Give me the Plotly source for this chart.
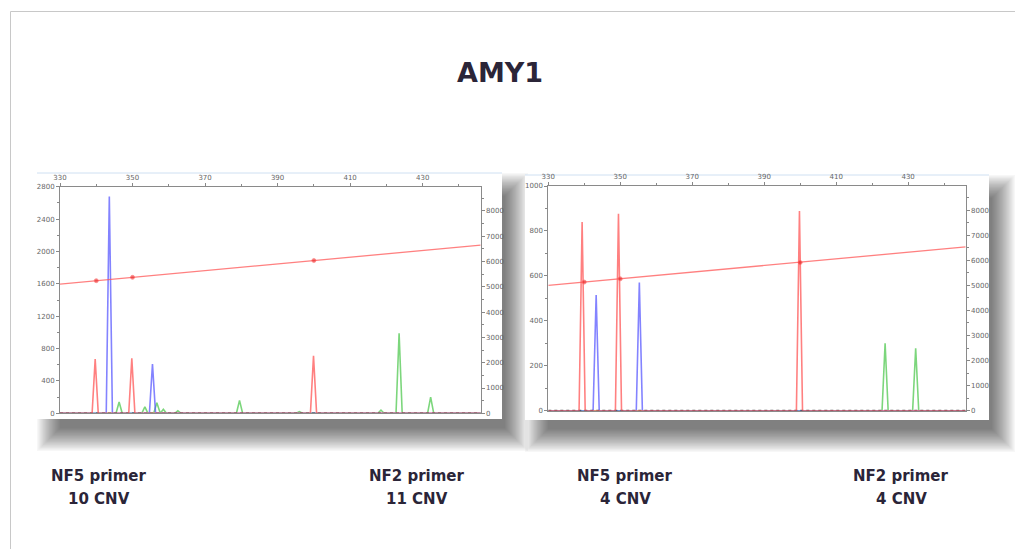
import plotly.graph_objects as go

W, H = 1015, 549

# Fragment size axis (bp) shared by both electropherograms
size_ticks = [330, 350, 370, 390, 410, 430]
size_range = [330, 446]

# Sample 1: peak positions (bp) and heights (RFU) per dye channel
a_red_pos = [339.7, 349.8, 399.9]
a_red_h = [670, 680, 710]
a_blue_pos = [343.6, 355.5]
a_blue_h = [2680, 610]
a_green_pos = [346.3, 353.4, 356.7, 358.5, 362.5, 379.5, 396.0, 418.5, 423.5, 432.2]
a_green_h = [140, 80, 130, 50, 30, 160, 20, 40, 990, 200]
# size-standard calibration curve (right axis)
a_ladder_x = [330, 340, 350, 400, 446]
a_ladder_y = [5110, 5243, 5376, 6040, 6650]

# Sample 2
b_red_pos = [339.4, 349.5, 399.8]
b_red_h = [840, 877, 889]
b_blue_pos = [343.3, 355.3]
b_blue_h = [515, 570]
b_green_pos = [423.6, 432.1]
b_green_h = [300, 278]
b_ladder_x = [330, 340, 350, 400, 446]
b_ladder_y = [5000, 5130, 5260, 5910, 6530]

captions = [
    ("NF5 primer", "10 CNV", 99),
    ("NF2 primer", "11 CNV", 417),
    ("NF5 primer", "4 CNV", 625),
    ("NF2 primer", "4 CNV", 901),
]

RED = "rgba(255,85,85,0.75)"
BLUE = "rgba(90,90,255,0.75)"
GREEN = "rgba(80,200,80,0.75)"
DARK = "#2b2538"


def px(x):
    return x / W


def py(y):
    return 1 - y / H


def peak_xy(pos, heights, w=0.85):
    xs, ys = [size_range[0]], [0]
    for p, h in sorted(zip(pos, heights)):
        xs += [p - w, p, p + w]
        ys += [0, h, 0]
    xs.append(size_range[1])
    ys.append(0)
    return xs, ys


fig = go.Figure()

panels = [
    dict(xa="x", ya="y", y2="y2", ymax=2800, ydt=400, ymin_dt=200,
         red=(a_red_pos, a_red_h), blue=(a_blue_pos, a_blue_h), green=(a_green_pos, a_green_h),
         lad=(a_ladder_x, a_ladder_y),
         plot=(60, 186.7, 480.7, 413.3), frame=(37, 173, 502, 419)),
    dict(xa="x2", ya="y3", y2="y4", ymax=1000, ydt=200, ymin_dt=100,
         red=(b_red_pos, b_red_h), blue=(b_blue_pos, b_blue_h), green=(b_green_pos, b_green_h),
         lad=(b_ladder_x, b_ladder_y),
         plot=(548.3, 186, 965.7, 410.7), frame=(525, 175, 989, 420)),
]

shapes = []
layout_axes = {}
tick_font = dict(family="DejaVu Sans", size=7, color="#666")

for i, p in enumerate(panels):
    # dye channels
    for (pos, hts), col in ((p["green"], GREEN), (p["blue"], BLUE)):
        xs, ys = peak_xy(pos, hts)
        fig.add_trace(go.Scatter(x=xs, y=ys, mode="lines", line=dict(color=col, width=1.6),
                                 xaxis=p["xa"], yaxis=p["ya"], hoverinfo="skip"))
    fig.add_trace(go.Scatter(x=size_range, y=[0, 0], mode="lines",
                             line=dict(color="rgba(30,30,30,0.7)", width=1.8, dash="dot"),
                             xaxis=p["xa"], yaxis=p["ya"], hoverinfo="skip"))
    xs, ys = peak_xy(*p["red"])
    fig.add_trace(go.Scatter(x=xs, y=ys, mode="lines", line=dict(color=RED, width=1.6),
                             xaxis=p["xa"], yaxis=p["ya"], hoverinfo="skip"))
    # calibration curve on the secondary axis
    lx, ly = p["lad"]
    fig.add_trace(go.Scatter(x=lx, y=ly, mode="lines+markers",
                             line=dict(color=RED, width=1.3),
                             marker=dict(color="rgba(230,40,40,0.9)",
                                         size=[0] + [4] * (len(lx) - 2) + [0]),
                             xaxis=p["xa"], yaxis=p["y2"], hoverinfo="skip"))

    x0, y0, x1, y1 = p["plot"]
    xdom = [px(x0), px(x1)]
    ydom = [py(y1), py(y0)]
    xname = "xaxis" if p["xa"] == "x" else "xaxis2"
    yname = "yaxis" if p["ya"] == "y" else "yaxis3"
    y2name = "yaxis2" if p["y2"] == "y2" else "yaxis4"
    layout_axes[xname] = dict(
        domain=xdom, range=size_range, side="top", anchor=p["ya"],
        tickmode="array", tickvals=size_ticks, ticks="outside", ticklen=3,
        tickcolor="#888", tickfont=tick_font, showgrid=False, zeroline=False,
        showline=True, linecolor="#8a8a8a", linewidth=1, mirror=True, automargin=False,
        minor=dict(tickvals=[340, 360, 380, 400, 420, 440], ticks="outside", ticklen=2, tickcolor="#888"),
    )
    layout_axes[yname] = dict(
        domain=ydom, range=[0, p["ymax"]], anchor=p["xa"], dtick=p["ydt"], tick0=0,
        ticks="outside", ticklen=3, tickcolor="#888", tickfont=tick_font, automargin=False,
        showgrid=False, zeroline=False, showline=True, linecolor="#8a8a8a", linewidth=1,
        minor=dict(dtick=p["ymin_dt"], ticks="outside", ticklen=2, tickcolor="#888"),
    )
    layout_axes[y2name] = dict(
        range=[0, 8960], overlaying=p["ya"], anchor=p["xa"], side="right",
        dtick=1000, tick0=0, ticks="outside", ticklen=3, tickcolor="#888",
        tickfont=tick_font, showgrid=False, zeroline=False, showline=True,
        linecolor="#8a8a8a", linewidth=1, automargin=False,
        minor=dict(dtick=500, ticks="outside", ticklen=2, tickcolor="#888"),
    )

    # soft drop shadow falling down and to the right of each panel
    fx0, fy0, fx1, fy1 = p["frame"]
    n = 20
    step = 1.2
    cx0, cy0, cx1, cy1 = fx0 + 24, fy0 + 24, fx1 + 2, fy1 + 8
    for k in range(n, 0, -1):
        g = step * k
        shapes.append(dict(type="rect", xref="paper", yref="paper", layer="below",
                           x0=px(cx0 - g), x1=px(cx1 + g),
                           y0=py(cy1 + g), y1=py(cy0 - g),
                           fillcolor="rgba(0,0,0,0.033)", line=dict(width=0)))
    shapes.append(dict(type="rect", xref="paper", yref="paper", layer="below",
                       x0=px(fx0), x1=px(fx1), y0=py(fy1), y1=py(fy0),
                       fillcolor="white", line=dict(width=0)))
    shapes.append(dict(type="line", xref="paper", yref="paper", layer="below",
                       x0=px(fx0), x1=px(fx1), y0=py(fy0), y1=py(fy0),
                       line=dict(color="#cfe0f2", width=1)))

# slide border
shapes.append(dict(type="line", xref="paper", yref="paper", x0=px(10.5), x1=1, y0=py(11.5), y1=py(11.5),
                   line=dict(color="#c8c8c8", width=1)))
shapes.append(dict(type="line", xref="paper", yref="paper", x0=px(10.5), x1=px(10.5), y0=0, y1=py(11.5),
                   line=dict(color="#c8c8c8", width=1)))

annotations = [dict(text="<b>AMY1</b>", x=px(500), y=py(72), xref="paper", yref="paper",
                    showarrow=False, xanchor="center", yanchor="middle",
                    font=dict(family="DejaVu Sans", size=27, color=DARK))]
for l1, l2, cx in captions:
    for txt, yy in ((l1, 476), (l2, 499)):
        annotations.append(dict(text="<b>%s</b>" % txt, x=px(cx), y=py(yy), xref="paper", yref="paper",
                                showarrow=False, xanchor="center", yanchor="middle",
                                font=dict(family="DejaVu Sans", size=15, color=DARK)))

fig.update_layout(
    width=W, height=H, margin=dict(l=0, r=0, t=0, b=0, autoexpand=False),
    paper_bgcolor="white", plot_bgcolor="rgba(0,0,0,0)",
    showlegend=False, shapes=shapes, annotations=annotations,
    **layout_axes,
)

fig.write_html("out.html")
